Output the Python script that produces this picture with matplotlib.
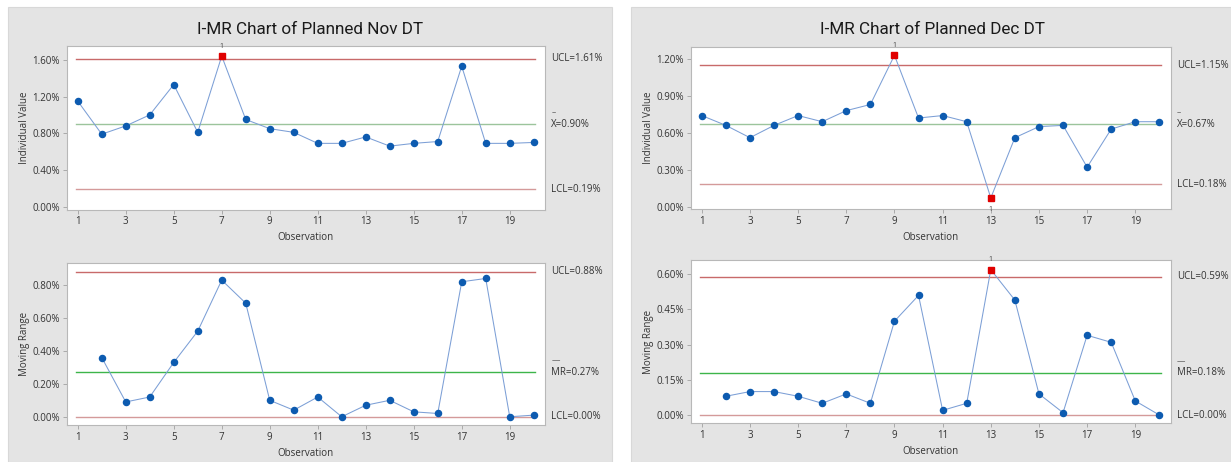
import numpy as np
import matplotlib
matplotlib.use('Agg')
import matplotlib.pyplot as plt
from matplotlib.patches import Rectangle
from matplotlib.ticker import FuncFormatter

plt.rcParams['font.family'] = ['Open Sans', 'DejaVu Sans']

# observations
obs = list(range(1, 21))
obs_mr = list(range(2, 21))

# November
nov_ind = [1.15, 0.79, 0.88, 1.00, 1.33, 0.81, 1.64, 0.95, 0.85, 0.81,
           0.69, 0.69, 0.76, 0.66, 0.69, 0.71, 1.53, 0.69, 0.69, 0.70]
nov_mr = [0.36, 0.09, 0.12, 0.33, 0.52, 0.83, 0.69, 0.10, 0.04, 0.12,
          0.00, 0.07, 0.10, 0.03, 0.02, 0.82, 0.84, 0.00, 0.01]
nov_ind_lim = (0.19, 0.90, 1.61)   # LCL, center, UCL
nov_mr_lim = (0.00, 0.27, 0.88)

# December
dec_ind = [0.74, 0.66, 0.56, 0.66, 0.74, 0.69, 0.78, 0.83, 1.23, 0.72,
           0.74, 0.69, 0.07, 0.56, 0.65, 0.66, 0.32, 0.63, 0.69, 0.69]
dec_mr = [0.08, 0.10, 0.10, 0.08, 0.05, 0.09, 0.05, 0.40, 0.51, 0.02,
          0.05, 0.62, 0.49, 0.09, 0.01, 0.34, 0.31, 0.06, 0.00]
dec_ind_lim = (0.18, 0.67, 1.15)
dec_mr_lim = (0.00, 0.18, 0.59)

W, H = 1231, 462
fig = plt.figure(figsize=(W / 100, H / 100), dpi=100)
fig.patch.set_facecolor('white')

# grey panels
for x0, x1 in [(8, 612), (631, 1231)]:
    fig.patches.append(Rectangle((x0 / W, 0), (x1 - x0) / W, 1 - 7 / H,
                                 transform=fig.transFigure, facecolor='#e4e4e4',
                                 edgecolor='#d8d8d8', linewidth=0.8, zorder=-10))


def px_axes(x0, x1, ytop, ybot):
    ax = fig.add_axes([x0 / W, 1 - ybot / H, (x1 - x0) / W, (ybot - ytop) / H])
    ax.set_zorder(1)
    return ax


def draw(ax, xs, vals, lims, ylim, yticks, ylabel, center_name, center_col):
    lcl, cl, ucl = lims
    ax.set_facecolor('white')
    ax.axhline(ucl, color='#c86a6a', lw=1.0, xmin=0.02, xmax=0.98)
    ax.axhline(lcl, color='#d49a9a', lw=1.0, xmin=0.02, xmax=0.98)
    ax.axhline(cl, color=center_col, lw=1.0, xmin=0.02, xmax=0.98)
    ax.plot(xs, vals, color='#7c9fd6', lw=0.75, zorder=3)
    out = [(x, v) for x, v in zip(xs, vals) if v > ucl or v < lcl]
    ok = [(x, v) for x, v in zip(xs, vals) if lcl <= v <= ucl]
    ax.plot([p[0] for p in ok], [p[1] for p in ok], 'o', color='#0d5bb0',
            ms=4.4, zorder=4)
    for x, v in out:
        ax.plot(x, v, 's', color='#e00000', ms=4.8, zorder=5)
        dy = 7 if v > ucl else -8
        ax.annotate('1', (x, v), xytext=(0, dy), textcoords='offset points',
                    ha='center', va='center', fontsize=5, color='#444444',
                    annotation_clip=False)
    ax.set_xlim(0.54, 20.47)
    ax.set_ylim(*ylim)
    ax.set_xticks(list(range(1, 20, 2)))
    ax.set_yticks(yticks)
    ax.yaxis.set_major_formatter(FuncFormatter(lambda v, p: '%.2f%%' % v))
    ax.tick_params(labelsize=7, length=3, width=0.6, color='#a0a0a0',
                   labelcolor='#333333', pad=2)
    for s in ax.spines.values():
        s.set_color('#b8b8b8')
        s.set_linewidth(0.8)
    ax.set_ylabel(ylabel, fontsize=7, color='#333333')
    ax.yaxis.set_label_coords(-0.077, 0.5)
    ax.set_xlabel('Observation', fontsize=7, color='#333333')
    ax.xaxis.set_label_coords(0.5, -0.14)
    tr = ax.get_yaxis_transform()
    kw = dict(transform=tr, fontsize=7, color='#333333', va='center', ha='left')
    ax.text(1.013, ucl, 'UCL=%.2f%%' % ucl, **kw)
    ax.text(1.013, lcl, 'LCL=%.2f%%' % lcl, **kw)
    ax.text(1.013, cl, '%s=%.2f%%' % (center_name, cl), **kw)
    bar = '\u2013' if center_name == 'X' else '\u2014'
    ax.annotate(bar, (1.013, cl), xycoords=tr, xytext=(0, 8),
                textcoords='offset points', fontsize=6, color='#333333',
                va='center', ha='left', annotation_clip=False)


a1 = px_axes(66.7, 545, 46, 209.5)
a2 = px_axes(66.7, 545, 263, 425)
a3 = px_axes(690.7, 1170.7, 46.7, 209)
a4 = px_axes(690.7, 1170.7, 260, 423)

draw(a1, obs, nov_ind, nov_ind_lim, (-0.03, 1.75), [0, 0.4, 0.8, 1.2, 1.6],
     'Individual Value', 'X', '#9cc49c')
draw(a2, obs_mr, nov_mr, nov_mr_lim, (-0.05, 0.934), [0, 0.2, 0.4, 0.6, 0.8],
     'Moving Range', 'MR', '#3db54a')
draw(a3, obs, dec_ind, dec_ind_lim, (-0.02, 1.30), [0, 0.3, 0.6, 0.9, 1.2],
     'Individual Value', 'X', '#9cc49c')
draw(a4, obs_mr, dec_mr, dec_mr_lim, (-0.034, 0.661), [0, 0.15, 0.3, 0.45, 0.6],
     'Moving Range', 'MR', '#3db54a')

tkw = dict(fontsize=12.3, ha='center', va='center', color='#1a1a1a',
           family=['Roboto', 'DejaVu Sans'])
fig.text(310 / W, 1 - 29 / H, 'I-MR Chart of Planned Nov DT', **tkw)
fig.text(932 / W, 1 - 29 / H, 'I-MR Chart of Planned Dec DT', **tkw)

fig.savefig('out.png', dpi=100)
